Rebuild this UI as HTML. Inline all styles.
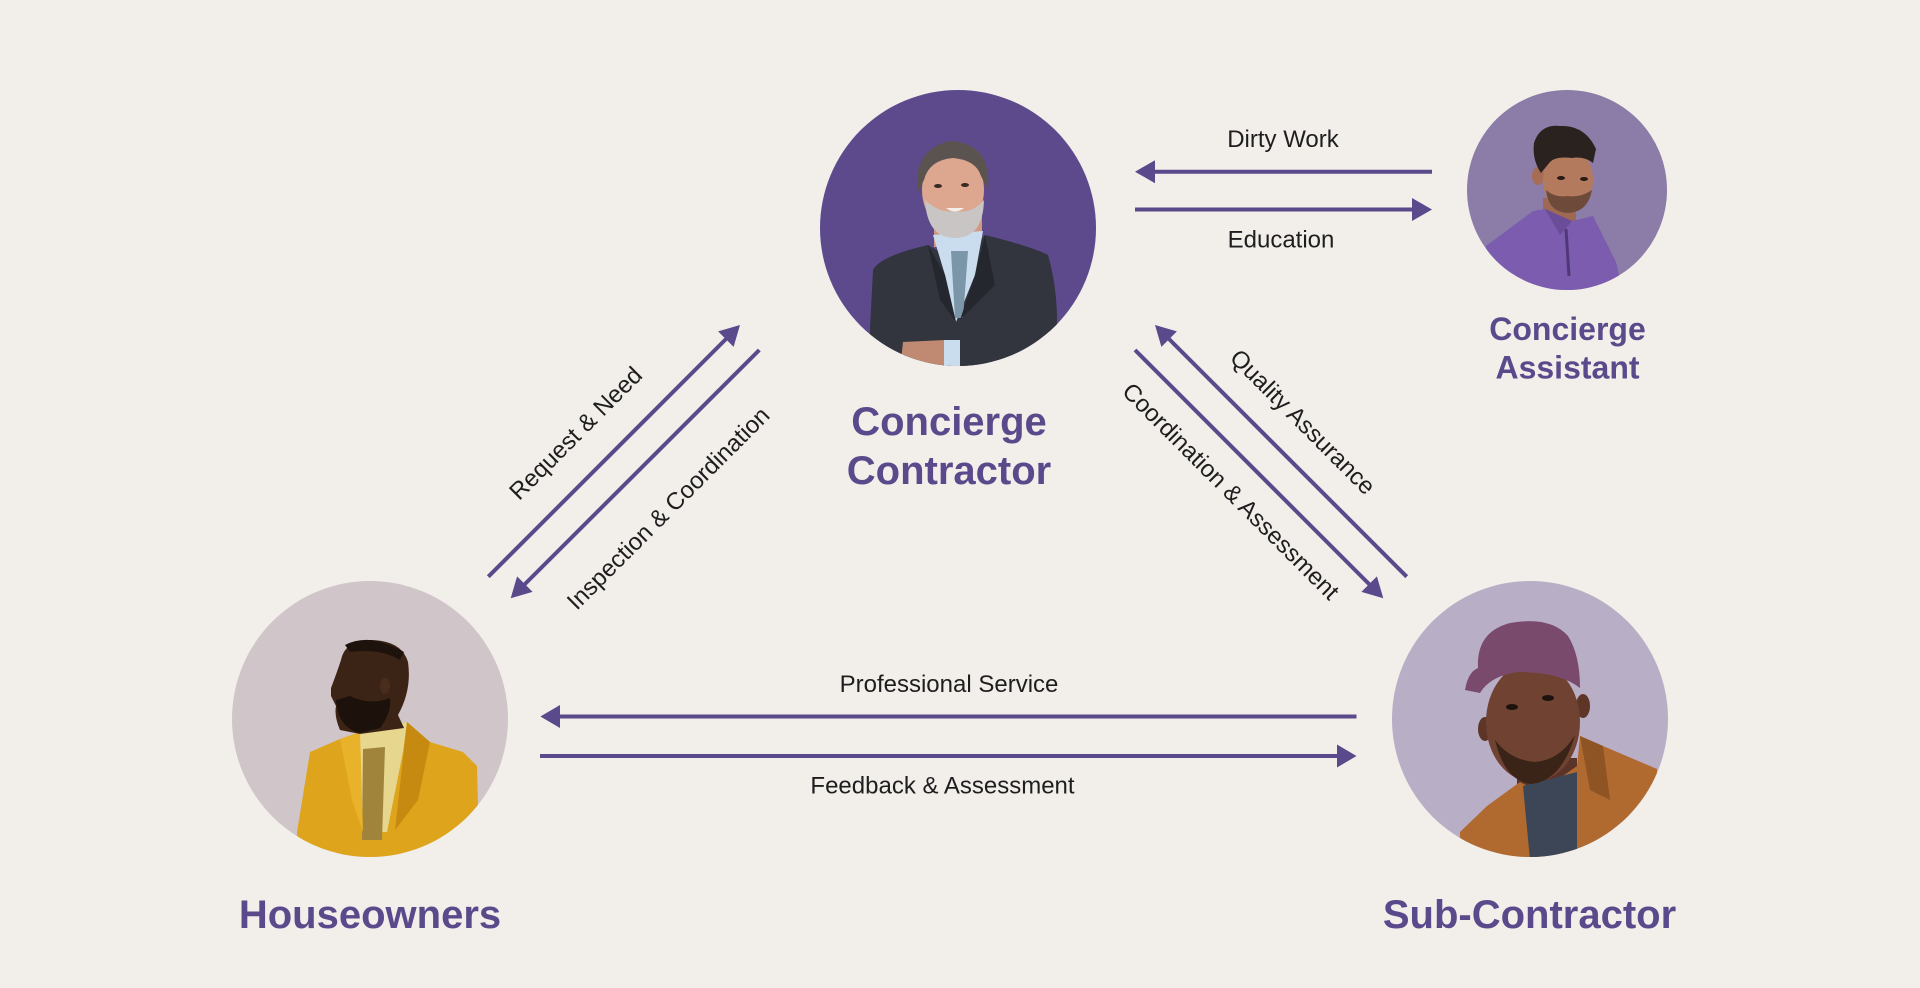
<!DOCTYPE html>
<html>
<head>
<meta charset="utf-8">
<style>
  html,body{margin:0;padding:0;background:#f2eeea;}
  body{width:1920px;height:988px;overflow:hidden;}
  svg{display:block;}
  .lbl{font-family:"Liberation Sans",sans-serif;font-size:24px;fill:#1e1e1e;}
  .hd{font-family:"Liberation Sans",sans-serif;font-weight:bold;font-size:40px;fill:#5b4a8b;}
  .hd2{font-family:"Liberation Sans",sans-serif;font-weight:bold;font-size:32px;fill:#5b4a8b;}
</style>
</head>
<body>
<svg width="1920" height="988" viewBox="0 0 1920 988" xmlns="http://www.w3.org/2000/svg">
  <defs>
    <clipPath id="cC"><circle cx="958" cy="228" r="138"/></clipPath>
    <clipPath id="cA"><circle cx="1567" cy="190" r="100"/></clipPath>
    <clipPath id="cH"><circle cx="370" cy="719" r="138"/></clipPath>
    <clipPath id="cS"><circle cx="1530" cy="719" r="138"/></clipPath>
  </defs>
  <rect width="1920" height="988" fill="#f2eeea"/>

  <!-- Concierge Contractor portrait -->
  <circle cx="958" cy="228" r="138" fill="#5d4a8c"/>
  <g clip-path="url(#cC)">
    <rect x="934" y="215" width="48" height="32" fill="#d09a82"/>
    <path d="M873,270 Q880,256 928,245 L958,262 L985,235 Q1030,246 1048,255 Q1058,290 1057,330 L1057,370 L869,370 L870,328 Z" fill="#33353e"/>
    <path d="M933,235 L983,231 L975,275 L956,322 L945,275 Z" fill="#c9ddee"/>
    <path d="M951,251 L968,251 L963,318 L955,318 Z" fill="#7a96a8"/>
    <path d="M928,245 L945,275 L956,322 L940,300 Z" fill="#25272e"/>
    <path d="M985,235 L975,275 L960,320 L995,285 Z" fill="#25272e"/>
    <path d="M903,342 L945,340 L958,350 L958,370 L900,370 Z" fill="#c08a72"/>
    <rect x="944" y="340" width="16" height="30" fill="#c9ddee"/>
    <ellipse cx="953" cy="190" rx="31" ry="40" fill="#dca78e"/>
    <path d="M925,200 Q927,238 955,238 Q983,238 984,200 Q972,214 956,211 Q940,214 925,200 Z" fill="#c9c5c4"/>
    <path d="M918,192 Q912,150 950,141 Q992,143 988,190 L981,176 Q976,160 953,158 Q929,160 924,180 Z" fill="#5b5350"/>
    <ellipse cx="938" cy="186" rx="4" ry="2" fill="#3a2a24"/>
    <ellipse cx="965" cy="185" rx="4" ry="2" fill="#3a2a24"/>
    <path d="M946,208 Q955,215 964,208 Z" fill="#f4efe8"/>
  </g>

  <!-- Concierge Assistant portrait -->
  <circle cx="1567" cy="190" r="100" fill="#8c7ca8"/>
  <g clip-path="url(#cA)">
    <rect x="1543" y="198" width="33" height="32" fill="#9e6852"/>
    <path d="M1486,246 L1533,211 L1545,209 L1572,221 L1593,216 L1616,262 L1623,292 L1479,292 Z" fill="#7c5cae"/>
    <path d="M1545,209 L1560,235 L1572,221 Z" fill="#6a4c98"/>
    <line x1="1566" y1="229" x2="1569" y2="276" stroke="#4f3878" stroke-width="3"/>
    <ellipse cx="1538" cy="176" rx="6" ry="9" fill="#a66c54"/>
    <ellipse cx="1568" cy="180" rx="25" ry="33" fill="#b47a5e"/>
    <path d="M1546,190 Q1548,212 1568,213 Q1588,212 1592,190 Q1580,198 1568,196 Q1555,198 1546,190 Z" fill="#6e4a3a"/>
    <path d="M1534,143 Q1540,124 1560,126 Q1585,125 1596,149 L1593,163 Q1584,156 1572,158 Q1556,156 1550,162 L1541,173 Q1532,160 1534,143 Z" fill="#2a221e"/>
    <ellipse cx="1561" cy="178" rx="4" ry="2" fill="#2a1a14"/>
    <ellipse cx="1584" cy="179" rx="4" ry="2" fill="#2a1a14"/>
  </g>

  <!-- Houseowners portrait -->
  <circle cx="370" cy="719" r="138" fill="#d0c6ca"/>
  <g clip-path="url(#cH)">
    <path d="M310,752 L340,739 L360,732 L407,722 L430,742 L463,752 L477,766 L478,806 L463,826 L430,860 L298,860 L297,832 Z" fill="#dea51c"/>
    <path d="M360,732 L407,722 L403,752 L387,832 L363,832 L360,752 Z" fill="#e6d68e"/>
    <path d="M363,749 L385,747 L382,840 L362,840 Z" fill="#a0843c"/>
    <path d="M407,722 L430,742 L418,800 L395,830 Z" fill="#c68a10"/>
    <path d="M360,732 L340,739 L352,800 L363,832 Z" fill="#e8b22a"/>
    <path d="M341,660 Q345,640 372,640 Q402,641 408,662 Q412,690 398,715 L404,728 L360,734 L340,730 Q334,716 336,706 L331,696 L331,688 Q336,675 341,660 Z" fill="#3b2416"/>
    <path d="M336,700 Q338,728 360,733 L380,728 Q392,712 390,698 Q370,706 350,696 Z" fill="#1c110b"/>
    <ellipse cx="385" cy="686" rx="5" ry="8" fill="#4a2c1c"/>
    <path d="M345,645 Q370,632 404,652 L400,660 Q380,648 350,652 Z" fill="#1e120c"/>
  </g>

  <!-- Sub-Contractor portrait -->
  <circle cx="1530" cy="719" r="138" fill="#b8aec6"/>
  <g clip-path="url(#cS)">
    <rect x="1517" y="758" width="60" height="40" fill="#5a3428"/>
    <path d="M1460,832 L1487,806 L1520,782 L1540,792 L1577,766 L1580,736 L1603,746 L1657,769 L1657,812 L1643,846 L1623,860 L1460,860 Z" fill="#b06a30"/>
    <path d="M1523,786 L1577,772 L1577,860 L1530,860 Z" fill="#3d4656"/>
    <path d="M1580,736 L1603,746 L1610,800 L1590,790 Z" fill="#8e5424"/>
    <ellipse cx="1485" cy="729" rx="7" ry="12" fill="#5e3628"/>
    <ellipse cx="1583" cy="706" rx="7" ry="12" fill="#5e3628"/>
    <ellipse cx="1533" cy="722" rx="47" ry="60" fill="#704232"/>
    <path d="M1495,740 Q1505,782 1532,784 Q1562,780 1575,735 Q1560,760 1535,762 Q1510,760 1495,740 Z" fill="#3a2418"/>
    <ellipse cx="1512" cy="707" rx="6" ry="3" fill="#1e120c"/>
    <ellipse cx="1548" cy="698" rx="6" ry="3" fill="#1e120c"/>
    <path d="M1465,690 Q1468,672 1478,668 Q1476,632 1510,623 Q1550,616 1568,636 Q1580,655 1580,688 Q1560,672 1518,672 Q1490,676 1480,693 Z" fill="#7a4a6c"/>
  </g>

  <!-- Connectors -->
  <g stroke="#5b4a8b" stroke-width="4" fill="none" stroke-linecap="butt">
    <!-- Dirty Work (to left) -->
    <line x1="1432" y1="171.7" x2="1150" y2="171.7"/>
    <!-- Education (to right) -->
    <line x1="1135" y1="209.5" x2="1416" y2="209.5"/>
    <!-- Request & Need -->
    <line x1="488.3" y1="576.7" x2="729" y2="336"/>
    <!-- Inspection & Coordination -->
    <line x1="759.3" y1="350" x2="522" y2="587"/>
    <!-- Quality Assurance -->
    <line x1="1406.7" y1="576.7" x2="1166" y2="336"/>
    <!-- Coordination & Assessment -->
    <line x1="1135" y1="350" x2="1372" y2="587"/>
    <!-- Professional Service -->
    <line x1="1356.5" y1="716.5" x2="555" y2="716.5"/>
    <!-- Feedback & Assessment -->
    <line x1="540" y1="756" x2="1341" y2="756"/>
  </g>
  <g fill="#5b4a8b">
    <polygon points="1135,171.7 1155,160.2 1155,183.2"/>
    <polygon points="1432,209.5 1412,198 1412,221"/>
    <polygon points="740,325 733.6,346.9 718.1,331.4"/>
    <polygon points="510.7,598.3 532.6,591.9 517.1,576.4"/>
    <polygon points="1155,325 1176.9,331.4 1161.4,346.9"/>
    <polygon points="1383.3,598.3 1376.9,576.4 1361.4,591.9"/>
    <polygon points="540.4,716.5 560,705 560,728"/>
    <polygon points="1356.5,756 1337,744.5 1337,767.5"/>
  </g>

  <!-- Connector labels -->
  <text class="lbl" x="1283" y="147" text-anchor="middle">Dirty Work</text>
  <text class="lbl" x="1281" y="247.5" text-anchor="middle">Education</text>
  <text class="lbl" x="949" y="692" text-anchor="middle">Professional Service</text>
  <text class="lbl" x="942.5" y="793.5" text-anchor="middle">Feedback &amp; Assessment</text>
  <text class="lbl" text-anchor="middle" dy="0.35em" transform="translate(575.5,433) rotate(-45)">Request &amp; Need</text>
  <text class="lbl" text-anchor="middle" dy="0.35em" transform="translate(668,508) rotate(-45)">Inspection &amp; Coordination</text>
  <text class="lbl" text-anchor="middle" dy="0.35em" transform="translate(1303,421.7) rotate(45)">Quality Assurance</text>
  <text class="lbl" text-anchor="middle" dy="0.35em" transform="translate(1231,491) rotate(45)">Coordination &amp; Assessment</text>

  <!-- Node headings -->
  <text class="hd" x="949" y="435" text-anchor="middle">Concierge</text>
  <text class="hd" x="949" y="484" text-anchor="middle">Contractor</text>
  <text class="hd2" x="1567.5" y="340" text-anchor="middle">Concierge</text>
  <text class="hd2" x="1567.5" y="378.5" text-anchor="middle">Assistant</text>
  <text class="hd" x="370" y="928" text-anchor="middle">Houseowners</text>
  <text class="hd" x="1529.5" y="928" text-anchor="middle">Sub-Contractor</text>
</svg>
</body>
</html>
